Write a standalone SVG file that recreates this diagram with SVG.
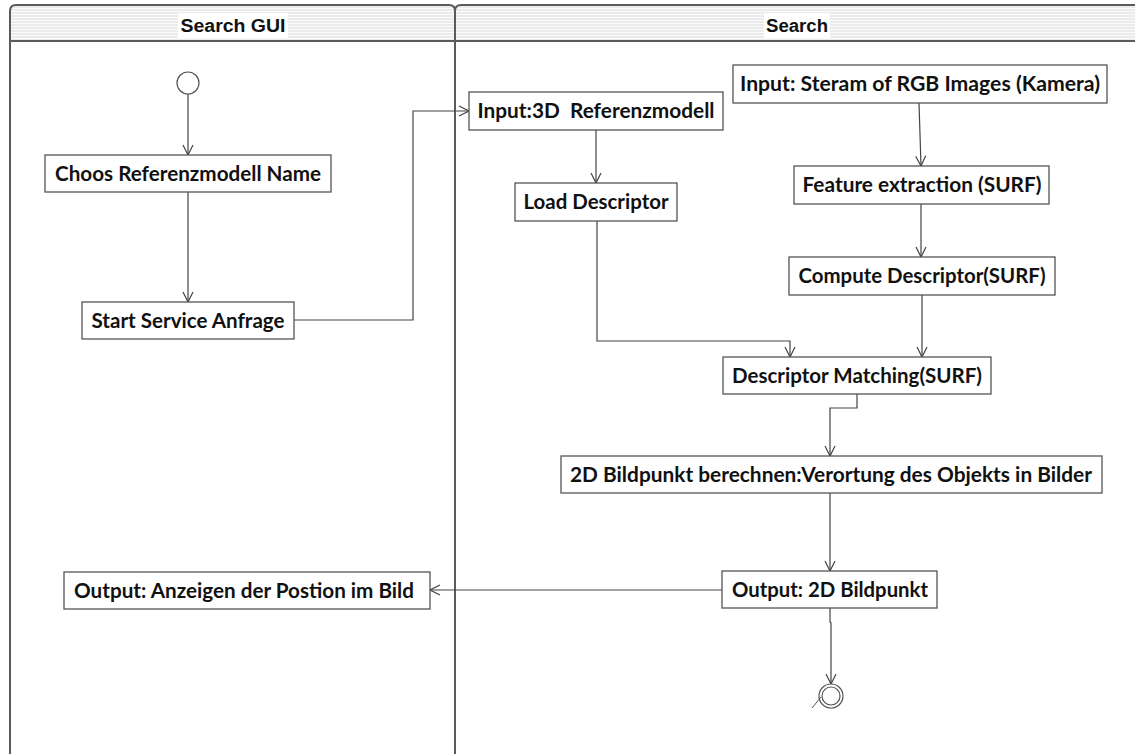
<svg xmlns="http://www.w3.org/2000/svg" width="1135" height="754" viewBox="0 0 1135 754">
<style>
.lane{fill:none;stroke:#5a5a5a;stroke-width:2}
.hdr{fill:url(#stripes)}
.title{font-family:"Liberation Sans",Arial,sans-serif;font-weight:bold;font-size:18px;fill:#111;text-anchor:middle}
.box{fill:#fff;stroke:#555;stroke-width:1.3}
.lbl{font-family:Lato,"Open Sans",sans-serif;font-weight:bold;font-size:20px;fill:#111;text-anchor:middle}
.edge{fill:none;stroke:#444;stroke-width:1.2}
</style>
<defs>
<pattern id="stripes" width="6" height="3" patternUnits="userSpaceOnUse">
<rect width="6" height="3" fill="#fafafa"/>
<line x1="0" y1="1" x2="6" y2="1" stroke="#dcdcdc" stroke-width="1"/>
</pattern>
<marker id="arr" viewBox="0 0 12 12" refX="11" refY="6" markerWidth="12" markerHeight="12" markerUnits="userSpaceOnUse" orient="auto">
<path d="M1,1 L11,6 L1,11" fill="none" stroke="#444" stroke-width="1.2"/>
</marker>
</defs>
<rect width="1135" height="754" fill="#fff"/>
<g id="lane-search-gui">
<path class="hdr" d="M10,41 L10,11 Q10,5 16,5 L449,5 Q455,5 455,11 L455,41 Z"/>
<path class="lane" d="M10,760 L10,11 Q10,5 16,5 L449,5 Q455,5 455,11 L455,760"/>
<line x1="10" y1="41" x2="455" y2="41" stroke="#5a5a5a" stroke-width="2"/>
<rect x="178" y="13" width="110" height="25" fill="#fff"/>
<text class="title" x="233" y="32" textLength="105" lengthAdjust="spacingAndGlyphs">Search GUI</text>
</g>
<g id="lane-search">
<path class="hdr" d="M455,41 L455,11 Q455,5 461,5 L1145,5 L1145,41 Z"/>
<path class="lane" d="M455,760 L455,11 Q455,5 461,5 L1145,5"/>
<line x1="455" y1="41" x2="1145" y2="41" stroke="#5a5a5a" stroke-width="2"/>
<rect x="764" y="13" width="66" height="25" fill="#fff"/>
<text class="title" x="797" y="32" textLength="62" lengthAdjust="spacingAndGlyphs">Search</text>
</g>
<g id="connectors">
<line class="edge" x1="188" y1="94" x2="188" y2="155" marker-end="url(#arr)"/>
<line class="edge" x1="188" y1="192" x2="188" y2="302" marker-end="url(#arr)"/>
<polyline class="edge" points="294,320 413,320 413,111 469,111" marker-end="url(#arr)"/>
<line class="edge" x1="596" y1="130" x2="596" y2="183" marker-end="url(#arr)"/>
<polyline class="edge" points="597,221 597,341 790,341 790,357" marker-end="url(#arr)"/>
<line class="edge" x1="919" y1="103" x2="921" y2="166" marker-end="url(#arr)"/>
<line class="edge" x1="921" y1="204" x2="921" y2="257" marker-end="url(#arr)"/>
<line class="edge" x1="922" y1="295" x2="922" y2="357" marker-end="url(#arr)"/>
<polyline class="edge" points="857,394 857,408 830,408 830,456" marker-end="url(#arr)"/>
<line class="edge" x1="830" y1="493" x2="830" y2="571" marker-end="url(#arr)"/>
<line class="edge" x1="722" y1="590" x2="430" y2="590" marker-end="url(#arr)"/>
<polyline class="edge" points="830,608 830,622 831,623 831,684" marker-end="url(#arr)"/>
</g>
<g id="start">
<circle cx="188" cy="83" r="11" fill="#fff" stroke="#555" stroke-width="1.2"/>
</g>
<g id="n-choos">
<rect class="box" x="45" y="155" width="286" height="37"/>
<text class="lbl" x="188" y="181" textLength="266" lengthAdjust="spacingAndGlyphs">Choos Referenzmodell Name</text>
</g>
<g id="n-start-service">
<rect class="box" x="82" y="302" width="212" height="37"/>
<text class="lbl" x="188" y="328" textLength="193" lengthAdjust="spacingAndGlyphs">Start Service Anfrage</text>
</g>
<g id="n-input3d">
<rect class="box" x="469" y="92" width="254" height="38"/>
<text class="lbl" x="596" y="118" textLength="237" lengthAdjust="spacingAndGlyphs" xml:space="preserve">Input:3D  Referenzmodell</text>
</g>
<g id="n-load">
<rect class="box" x="515" y="183" width="162" height="38"/>
<text class="lbl" x="596" y="209" textLength="145" lengthAdjust="spacingAndGlyphs">Load Descriptor</text>
</g>
<g id="n-input-stream">
<rect class="box" x="733" y="65" width="374" height="38"/>
<text class="lbl" x="920" y="91" textLength="360" lengthAdjust="spacingAndGlyphs">Input: Steram of RGB Images (Kamera)</text>
</g>
<g id="n-feature">
<rect class="box" x="794" y="166" width="255" height="38"/>
<text class="lbl" x="922" y="192" textLength="239" lengthAdjust="spacingAndGlyphs">Feature extraction (SURF)</text>
</g>
<g id="n-compute">
<rect class="box" x="789" y="257" width="266" height="38"/>
<text class="lbl" x="922" y="283" textLength="247" lengthAdjust="spacingAndGlyphs">Compute Descriptor(SURF)</text>
</g>
<g id="n-matching">
<rect class="box" x="723" y="357" width="268" height="37"/>
<text class="lbl" x="857" y="383" textLength="250" lengthAdjust="spacingAndGlyphs">Descriptor Matching(SURF)</text>
</g>
<g id="n-2d">
<rect class="box" x="561" y="456" width="541" height="37"/>
<text class="lbl" x="831" y="482" textLength="522" lengthAdjust="spacingAndGlyphs">2D Bildpunkt berechnen:Verortung des Objekts in Bilder</text>
</g>
<g id="n-output-anzeigen">
<rect class="box" x="64" y="572" width="366" height="37"/>
<text class="lbl" x="244" y="598" textLength="340" lengthAdjust="spacingAndGlyphs">Output: Anzeigen der Postion im Bild</text>
</g>
<g id="n-output-2d">
<rect class="box" x="722" y="571" width="215" height="37"/>
<text class="lbl" x="830" y="597" textLength="196" lengthAdjust="spacingAndGlyphs">Output: 2D Bildpunkt</text>
</g>
<g id="end">
<circle cx="831" cy="696" r="12" fill="#fff" stroke="#555" stroke-width="1.2"/>
<circle cx="831" cy="696" r="9" fill="#fff" stroke="#555" stroke-width="1.2"/>
<line x1="812" y1="708" x2="821" y2="697" stroke="#555" stroke-width="1"/>
</g>
</svg>
